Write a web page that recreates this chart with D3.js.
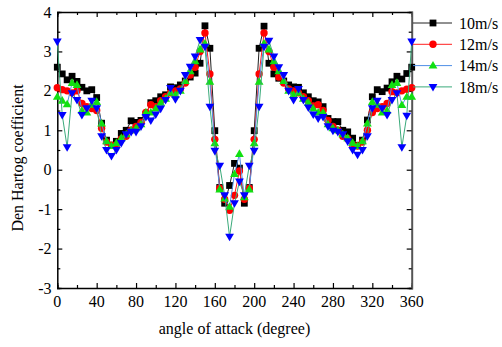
<!DOCTYPE html>
<html lang="en">
<head>
    <meta charset="UTF-8">
    <title>Den Hartog coefficient</title>
    <script src="https://cdn.jsdelivr.net/npm/d3@7"></script>
    <style>
        body { margin: 0; background: #fff; }
        text { font-family: "Liberation Serif", "Times New Roman", serif; }
    </style>
</head>
<body>
    <svg width="502" height="347" id="mainsvg" style="display: block;"></svg>
    <script>
        // angle of attack (degree)
        const angles = [0,5,10,15,20,25,30,35,40,45,50,55,60,65,70,75,80,85,90,95,100,105,110,115,120,125,130,135,140,145,150,155,160,165,170,175,180,
            185,190,195,200,205,210,215,220,225,230,235,240,245,250,255,260,265,270,275,280,285,290,295,300,305,310,315,320,325,330,335,340,345,350,355,360];

        const v10 = [2.6,2.43,2.28,2.37,2.24,2.09,2.0,2.03,1.83,1.18,0.75,0.62,0.72,0.92,1.0,1.24,1.2,1.25,1.4,1.7,1.75,1.85,1.9,2.1,2.08,2.15,2.25,2.35,2.45,2.7,3.65,3.08,0.99,-0.45,-0.85,-0.4,0.16,
            0.04,-0.85,-0.45,0.99,3.08,3.64,2.7,2.43,2.32,2.25,2.15,2.1,2.09,1.95,1.85,1.75,1.72,1.6,1.3,1.22,1.22,1.0,0.96,0.8,0.62,0.75,1.26,1.85,2.03,1.98,2.07,2.23,2.37,2.3,2.44,2.6];
        const v12 = [2.08,2.03,2.0,1.95,2.0,1.68,1.6,1.55,1.5,1.05,0.7,0.62,0.62,0.78,0.85,1.0,1.1,1.2,1.45,1.65,1.6,1.75,1.85,1.95,2.0,2.05,2.2,2.4,2.6,3.0,3.47,2.43,0.77,-0.47,-0.75,-1.03,-0.65,
            -0.03,-0.75,-0.47,0.77,2.43,3.47,3.0,2.6,2.35,2.2,2.05,2.0,1.95,1.85,1.75,1.62,1.65,1.5,1.25,1.1,1.0,0.85,0.78,0.62,0.6,0.7,1.0,1.45,1.55,1.6,1.68,1.98,1.95,2.0,2.04,2.08];
        const v14 = [1.85,1.75,1.66,2.2,2.15,1.5,1.45,1.65,1.72,1.17,0.72,0.6,0.68,0.8,0.9,1.0,1.05,1.15,1.45,1.45,1.55,1.7,1.8,1.95,1.9,2.0,2.25,2.5,2.75,3.05,3.2,2.23,0.67,-0.5,-0.73,-0.94,-0.11,
            0.4,-0.7,-0.5,0.67,2.23,3.2,3.05,2.75,2.5,2.25,2.0,1.9,1.95,1.8,1.7,1.55,1.45,1.45,1.15,1.05,1.0,0.9,0.8,0.68,0.6,0.72,1.17,1.72,1.65,1.45,1.5,2.15,2.2,1.64,1.85,1.85];
        const v18 = [3.25,1.39,0.57,1.94,1.77,1.39,1.56,1.75,1.56,0.85,0.5,0.35,0.5,0.68,0.9,0.96,0.96,1.1,1.34,1.25,1.4,1.55,1.77,2.07,1.79,2.0,2.4,2.61,2.87,3.29,3.12,1.6,0.48,0.1,-0.65,-1.7,-0.85,
            -0.3,-0.65,0.1,0.48,1.6,3.12,3.27,2.87,2.6,2.4,2.0,1.77,2.05,1.77,1.58,1.4,1.3,1.34,1.1,0.99,0.96,0.9,0.72,0.5,0.38,0.5,0.85,1.56,1.75,1.56,1.39,1.77,1.94,0.57,1.37,3.25];

        const seriesNames = ["10m/s", "12m/s", "14m/s", "18m/s"];
        const xTicks = [0, 40, 80, 120, 160, 200, 240, 280, 320, 360];
        const yTicks = [-3, -2, -1, 0, 1, 2, 3, 4];

        const series = [
            {name: seriesNames[0], values: v10, fill: "#000000", line: "#222222", shape: "square"},
            {name: seriesNames[1], values: v12, fill: "#ff0000", line: "#ff2020", shape: "circle"},
            {name: seriesNames[2], values: v14, fill: "#11e011", line: "#4f8fe6", shape: "up"},
            {name: seriesNames[3], values: v18, fill: "#0000ff", line: "#3aaa7a", shape: "down"}
        ];

        const svg = d3.select("#mainsvg");
        const plot = {left: 57.3, right: 411.7, top: 12, bottom: 288};

        const x = d3.scaleLinear().domain([0, 360]).range([plot.left, plot.right]);
        const y = d3.scaleLinear().domain([-3, 4]).range([plot.bottom, plot.top]);

        // frame axes, ticks pointing inward
        const minorX = d3.range(0, 361, 20);
        const minorY = d3.range(-3, 4.01, 0.5);

        const bx = svg.append("g").attr("transform", `translate(0,${plot.bottom})`)
            .call(d3.axisBottom(x).tickValues(minorX).tickSize(-3).tickFormat(""));
        bx.call(g => g.selectAll(".tick line").filter(d => d % 40 === 0).attr("y2", -5));
        const tx = svg.append("g").attr("transform", `translate(0,${plot.top})`)
            .call(d3.axisTop(x).tickValues(minorX).tickSize(-3).tickFormat(""));
        tx.call(g => g.selectAll(".tick line").filter(d => d % 40 === 0).attr("y2", 5));
        const ly = svg.append("g").attr("transform", `translate(${plot.left},0)`)
            .call(d3.axisLeft(y).tickValues(minorY).tickSize(-3).tickFormat(""));
        ly.call(g => g.selectAll(".tick line").filter(d => Number.isInteger(d)).attr("x2", 5));
        const ry = svg.append("g").attr("transform", `translate(${plot.right},0)`)
            .call(d3.axisRight(y).tickValues(minorY).tickSize(-3).tickFormat(""));
        ry.call(g => g.selectAll(".tick line").filter(d => Number.isInteger(d)).attr("x2", -5));

        svg.selectAll(".domain").attr("stroke", "#000").attr("stroke-width", 1.5);
        svg.selectAll(".tick line").attr("stroke", "#000").attr("stroke-width", 1.2);
        ry.select(".domain").attr("stroke", "#555").attr("stroke-width", 2);

        // tick labels
        svg.append("g").selectAll("text").data(xTicks).join("text")
            .attr("x", d => x(d))
            .attr("y", 307)
            .attr("text-anchor", "middle")
            .attr("font-size", 16)
            .text(d => d);
        svg.append("g").selectAll("text").data(yTicks).join("text")
            .attr("x", 51.5)
            .attr("y", d => y(d))
            .attr("dy", "0.35em")
            .attr("text-anchor", "end")
            .attr("font-size", 16)
            .text(d => d);

        svg.append("text")
            .attr("x", (plot.left + plot.right) / 2)
            .attr("y", 334)
            .attr("text-anchor", "middle")
            .attr("font-size", 16)
            .text("angle of attack (degree)");
        svg.append("text")
            .attr("transform", "translate(23,158) rotate(-90)")
            .attr("text-anchor", "middle")
            .attr("font-size", 16)
            .text("Den Hartog coefficient");

        function marker(sel, shape, fill) {
            if (shape === "square") {
                sel.append("rect").attr("x", -3.4).attr("y", -3.4).attr("width", 6.8).attr("height", 6.8).attr("fill", fill);
            } else if (shape === "circle") {
                sel.append("circle").attr("r", 3.7).attr("fill", fill);
            } else if (shape === "up") {
                sel.append("path").attr("d", "M0,-4.6L4.4,3L-4.4,3Z").attr("fill", fill);
            } else {
                sel.append("path").attr("d", "M0,4.6L4.4,-3L-4.4,-3Z").attr("fill", fill);
            }
        }

        const line = d3.line().x((d, i) => x(angles[i])).y(d => y(d));

        series.forEach(s => {
            const g = svg.append("g");
            g.append("path")
                .attr("d", line(s.values))
                .attr("fill", "none")
                .attr("stroke", s.line)
                .attr("stroke-width", 1);
            g.selectAll("g").data(s.values).join("g")
                .attr("transform", (d, i) => `translate(${x(angles[i])},${y(d)})`)
                .each(function() { marker(d3.select(this), s.shape, s.fill); });
        });

        // legend
        const legend = svg.append("g");
        series.forEach((s, i) => {
            const rowY = 23 + i * 21.3;
            legend.append("line")
                .attr("x1", 413).attr("x2", 452)
                .attr("y1", rowY).attr("y2", rowY)
                .attr("stroke", s.line).attr("stroke-width", 1);
            marker(legend.append("g").attr("transform", `translate(433,${rowY})`), s.shape, s.fill);
            legend.append("text")
                .attr("x", 459)
                .attr("y", rowY)
                .attr("dy", "0.35em")
                .attr("font-size", 16)
                .text(s.name);
        });
    </script>
</body>
</html>
